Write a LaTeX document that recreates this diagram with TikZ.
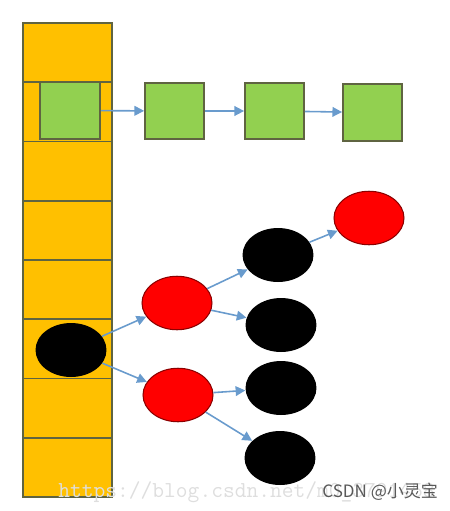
\documentclass[tikz,border=0pt]{standalone}
\usepackage{fontspec}
\newfontfamily\cjk{Noto Sans CJK SC}
\usetikzlibrary{arrows.meta,shapes.geometric}
\definecolor{cellyellow}{RGB}{255,192,0}
\definecolor{boxgreen}{RGB}{146,208,80}
\definecolor{edgegray}{RGB}{95,100,65}
\definecolor{ballred}{RGB}{255,0,0}
\definecolor{darkred}{RGB}{140,0,0}
\definecolor{linkblue}{RGB}{105,155,205}

\begin{document}
\begin{tikzpicture}[x=0.02cm,y=-0.02cm]
		 \tikzstyle{every node}+=[inner sep=0pt]
		 \tikzstyle{cell}=[draw=edgegray,fill=cellyellow,line width=1pt,minimum width=1.78cm,minimum height=1.185cm]
		 \tikzstyle{greenbox}=[draw=edgegray,fill=boxgreen,line width=1pt,minimum width=1.18cm,minimum height=1.13cm]
		 \tikzstyle{redball}=[ellipse,draw=darkred,fill=ballred,line width=0.6pt,minimum width=1.4cm,minimum height=1.07cm]
		 \tikzstyle{blackball}=[ellipse,fill=black,minimum width=1.42cm,minimum height=1.08cm]
		 \tikzstyle{link}=[linkblue,line width=0.9pt,-{Triangle[length=5.5pt,width=5.5pt]}]
		 \useasboundingbox (0,0) rectangle (450,511);
		 % the column of buckets
		 \node [cell] (c1) at (67.5,52.6) {};
		 \node [cell] (c2) at (67.5,111.9) {};
		 \node [cell] (c3) at (67.5,171.1) {};
		 \node [cell] (c4) at (67.5,230.4) {};
		 \node [cell] (c5) at (67.5,289.6) {};
		 \node [cell] (c6) at (67.5,348.9) {};
		 \node [cell] (c7) at (67.5,408.1) {};
		 \node [cell] (c8) at (67.5,467.4) {};
		 % the list
		 \node [greenbox,minimum width=1.2cm] (g0) at (70,110.5) {};
		 \node [greenbox] (g1) at (174.5,111) {};
		 \node [greenbox] (g2) at (274.5,111) {};
		 \node [greenbox] (g3) at (372.5,112.5) {};
		 \draw [link] (g0) -- (g1);
		 \draw [link] (g1) -- (g2);
		 \draw [link] (g2) -- (g3);
		 % the tree
		 \node [blackball] (root) at (71,350) {};
		 \node [redball] (r1) at (177,303) {};
		 \node [redball] (r2) at (178,395) {};
		 \node [blackball] (b1) at (278,255) {};
		 \node [blackball] (b2) at (281,325) {};
		 \node [blackball] (b3) at (281,388) {};
		 \node [blackball] (b4) at (280,458) {};
		 \node [redball] (r3) at (369,218) {};
		 \draw [link] (root) -- (r1);
		 \draw [link] (root) -- (r2);
		 \draw [link] (r1) -- (b1);
		 \draw [link] (r1) -- (b2);
		 \draw [link] (r2) -- (b3);
		 \draw [link] (r2) -- (b4);
		 \draw [link] (b1) -- (r3);
		 % watermarks
		 \node [anchor=base west,text=black!13,font=\ttfamily\fontsize{13}{13}\selectfont] (wm) at (58,497) {https://blog.csdn.net/m0\_3791458};
		 \node [anchor=base west,text=black!65,font=\cjk\fontsize{9.7}{9.7}\selectfont] (csdn) at (322,497) {CSDN @小灵宝};
	 \end{tikzpicture}
\end{document}
